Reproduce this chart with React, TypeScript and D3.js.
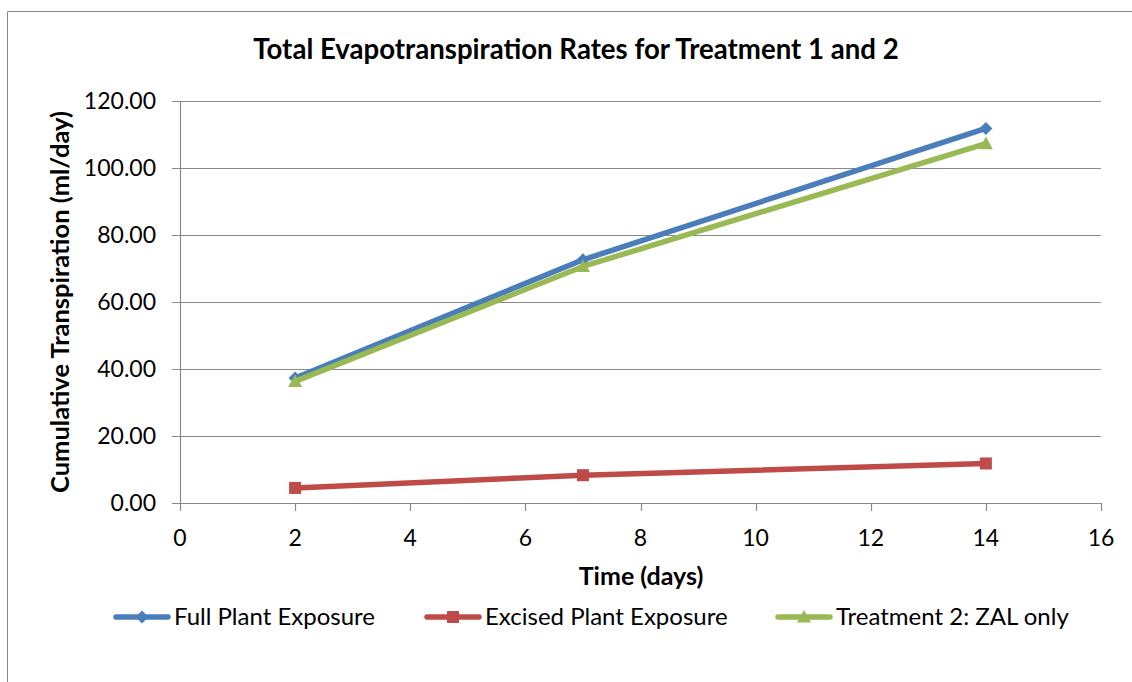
import React from "react";
import * as d3 from "d3";

const days = [2, 7, 14];
const fullPlant = [37.3, 72.6, 111.8];
const excisedPlant = [4.5, 8.3, 11.8];
const treatment2 = [36.3, 70.6, 107.3];
const seriesNames = ["Full Plant Exposure", "Excised Plant Exposure", "Treatment 2: ZAL only"];
const seriesColors = ["#4a7ebb", "#be4b48", "#98b954"];
const xTicks = [0, 2, 4, 6, 8, 10, 12, 14, 16];
const yTicks = [0, 20, 40, 60, 80, 100, 120];

const FONT = "Lato, 'Open Sans', 'Liberation Sans', sans-serif";

function Marker({ kind, x, y, color }: { kind: number; x: number; y: number; color: string }) {
  if (kind === 0) {
    const s = 6.5;
    return <path d={`M${x},${y - s}L${x + s},${y}L${x},${y + s}L${x - s},${y}Z`} fill={color} />;
  }
  if (kind === 1) {
    return <rect x={x - 6} y={y - 6} width={12} height={12} fill={color} />;
  }
  const s = 7;
  return <path d={`M${x},${y - s}L${x + s},${y + s * 0.8}L${x - s},${y + s * 0.8}Z`} fill={color} />;
}

export default function App() {
  const W = 1132, H = 682;
  const x = d3.scaleLinear().domain([0, 16]).range([180, 1101]);
  const y = d3.scaleLinear().domain([0, 120]).range([503, 101]);
  const data = [fullPlant, excisedPlant, treatment2];
  const line = d3.line<[number, number]>().x(d => x(d[0])).y(d => y(d[1]));
  const legendX = [114, 425, 776];

  return (
    <svg width={W} height={H} style={{ position: "absolute", left: 0, top: 0 }}>
      <rect x={0} y={0} width={W} height={H} fill="#fff" />
      <path d={`M7.5,${H}V11.5H${W}`} fill="none" stroke="#878787" strokeWidth={1} />
      <text x={576} y={59} textAnchor="middle" fontFamily={FONT} fontWeight="bold" fontSize={27.6} fill="#000">
        Total Evapotranspiration Rates for Treatment 1 and 2
      </text>
      {yTicks.map(t => (
        <g key={"y" + t}>
          <line x1={172} x2={1101} y1={Math.round(y(t)) + 0.5} y2={Math.round(y(t)) + 0.5} stroke="#8a8a8a" strokeWidth={1.2} />
          <text x={156} y={y(t) + 8} textAnchor="end" fontFamily={FONT} fontSize={23} fill="#000">
            {t.toFixed(2)}
          </text>
        </g>
      ))}
      <line x1={180.5} x2={180.5} y1={101} y2={503} stroke="#8a8a8a" strokeWidth={1.2} />
      {xTicks.map(t => (
        <g key={"x" + t}>
          <line x1={Math.round(x(t)) + 0.5} x2={Math.round(x(t)) + 0.5} y1={503} y2={511} stroke="#8a8a8a" strokeWidth={1.2} />
          <text x={x(t)} y={546} textAnchor="middle" fontFamily={FONT} fontSize={23} fill="#000">
            {t}
          </text>
        </g>
      ))}
      <text x={641} y={585} textAnchor="middle" fontFamily={FONT} fontWeight="bold" fontSize={25} fill="#000">
        Time (days)
      </text>
      <text transform={`translate(69,302) rotate(-90)`} textAnchor="middle" fontFamily={FONT} fontWeight="bold" fontSize={25.5} fill="#000">
        Cumulative Transpiration (ml/day)
      </text>
      {data.map((vals, i) => {
        const pts = days.map((d, j) => [d, vals[j]] as [number, number]);
        return (
          <g key={"s" + i}>
            <path d={line(pts) || ""} fill="none" stroke={seriesColors[i]} strokeWidth={5.5} strokeLinejoin="round" strokeLinecap="round" />
            {pts.map((p, j) => (
              <Marker key={j} kind={i} x={x(p[0])} y={y(p[1])} color={seriesColors[i]} />
            ))}
          </g>
        );
      })}
      {seriesNames.map((n, i) => (
        <g key={"l" + i}>
          <line x1={legendX[i] + 2} x2={legendX[i] + 54} y1={617} y2={617} stroke={seriesColors[i]} strokeWidth={5.5} strokeLinecap="round" />
          <Marker kind={i} x={legendX[i] + 28} y={617} color={seriesColors[i]} />
          <text x={legendX[i] + 60} y={625} fontFamily={FONT} fontSize={24} fill="#000">
            {n}
          </text>
        </g>
      ))}
    </svg>
  );
}
